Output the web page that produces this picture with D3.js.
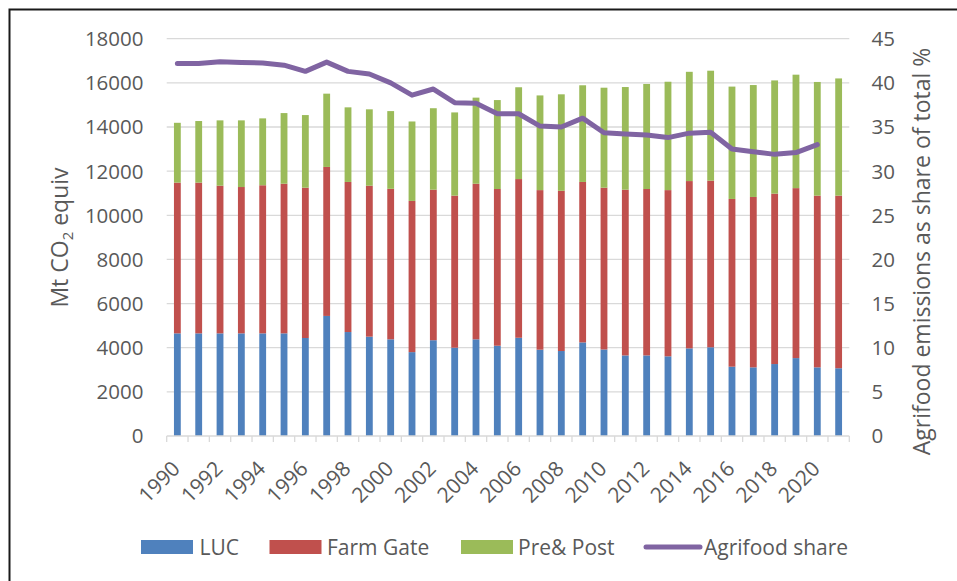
<!DOCTYPE html>
<html>
<head>
<meta charset="utf-8">
<script src="https://cdn.jsdelivr.net/npm/d3@7"></script>
<style>
  html, body { margin: 0; padding: 0; background: #fff; }
  svg { display: block; font-family: "Open Sans", sans-serif; }
</style>
</head>
<body>
<svg id="chart" width="957" height="581"></svg>
<script>
// ---- data ----
const years = [1990,1991,1992,1993,1994,1995,1996,1997,1998,1999,2000,2001,2002,2003,2004,2005,2006,2007,2008,2009,2010,2011,2012,2013,2014,2015,2016,2017,2018,2019,2020,2021];
const luc = [4650,4650,4650,4650,4650,4650,4440,5440,4710,4500,4380,3800,4340,4000,4380,4090,4450,3910,3850,4240,3920,3650,3650,3610,3970,4020,3140,3110,3260,3530,3110,3070];
const farmGate = [6830,6830,6690,6630,6710,6780,6810,6750,6800,6840,6820,6850,6820,6890,7050,7100,7190,7230,7260,7270,7330,7510,7540,7530,7580,7550,7600,7720,7720,7700,7780,7820];
const prePost = [2710,2790,2960,3020,3030,3200,3290,3320,3380,3460,3520,3600,3690,3770,3900,4030,4160,4290,4370,4380,4530,4650,4760,4910,4950,4980,5090,5070,5130,5140,5150,5310];
const agrifoodShare = [42.2,42.2,42.4,42.3,42.25,42.0,41.3,42.35,41.3,41.0,40.0,38.6,39.3,37.75,37.7,36.5,36.5,35.1,35.0,36.0,34.35,34.2,34.1,33.8,34.3,34.4,32.5,32.2,31.9,32.1,33.0,null];
const leftTicks = [0,2000,4000,6000,8000,10000,12000,14000,16000,18000];
const rightTicks = [0,5,10,15,20,25,30,35,40,45];
const xLabelYears = [1990,1992,1994,1996,1998,2000,2002,2004,2006,2008,2010,2012,2014,2016,2018,2020];
const seriesNames = ["LUC","Farm Gate","Pre& Post"];
const lineName = "Agrifood share";
const colors = ["#4F81BD","#C0504D","#9BBB59"];
const lineColor = "#8064A2";

// ---- layout ----
const plot = {left: 166.7, right: 849.3, top: 38.7, bottom: 436};
const svg = d3.select("#chart");
const textColor = "#595959";

// frame (left & top visible)
svg.append("rect").attr("x",9.5).attr("y",9.5).attr("width",1200).attr("height",1200)
  .attr("fill","none").attr("stroke","#1a1a1a").attr("stroke-width",2);

const x = d3.scaleBand().domain(years).range([plot.left, plot.right])
  .paddingInner(0.68).paddingOuter(0.34);
const xOuter = d3.scaleBand().domain(years).range([plot.left, plot.right]).padding(0);
const y = d3.scaleLinear().domain([0,18000]).range([plot.bottom, plot.top]);
const y2 = d3.scaleLinear().domain([0,45]).range([plot.bottom, plot.top]);

// gridlines
svg.append("g").selectAll("line").data(leftTicks.filter(d=>d>0)).join("line")
  .attr("x1",plot.left).attr("x2",plot.right)
  .attr("y1",d=>y(d)).attr("y2",d=>y(d))
  .attr("stroke","#D9D9D9").attr("stroke-width",1.3);

// stacked bars
const rows = years.map((yr,i)=>({year:yr, LUC:luc[i], "Farm Gate":farmGate[i], "Pre& Post":prePost[i]}));
const stack = d3.stack().keys(seriesNames)(rows);
svg.append("g").selectAll("g").data(stack).join("g")
  .attr("fill",(d,i)=>colors[i])
  .selectAll("rect").data(d=>d).join("rect")
  .attr("x",d=>x(d.data.year))
  .attr("width",x.bandwidth())
  .attr("y",d=>y(d[1]))
  .attr("height",d=>y(d[0])-y(d[1]));

// x axis line and ticks
const xAxis = svg.append("g");
xAxis.append("line").attr("x1",plot.left).attr("x2",plot.right)
  .attr("y1",plot.bottom).attr("y2",plot.bottom)
  .attr("stroke","#D9D9D9").attr("stroke-width",1.3);
const tickPos = years.map(yr=>xOuter(yr)).concat([plot.right]);
xAxis.selectAll("line.tick").data(tickPos).join("line").attr("class","tick")
  .attr("x1",d=>d).attr("x2",d=>d).attr("y1",plot.bottom).attr("y2",plot.bottom+6)
  .attr("stroke","#D9D9D9").attr("stroke-width",1.3);
xAxis.selectAll("text").data(xLabelYears).join("text")
  .attr("transform",d=>`translate(${x(d)+x.bandwidth()/2+4},${plot.bottom+34}) rotate(-45)`)
  .attr("text-anchor","end")
  .attr("fill",textColor).attr("font-size",21)
  .text(d=>d);

// left axis labels
svg.append("g").selectAll("text").data(leftTicks).join("text")
  .attr("x",143.5).attr("y",d=>y(d)).attr("dy","0.36em")
  .attr("text-anchor","end").attr("fill",textColor).attr("font-size",20.5)
  .text(d=>d);

// right axis labels
svg.append("g").selectAll("text").data(rightTicks).join("text")
  .attr("x",871.5).attr("y",d=>y2(d)).attr("dy","0.36em")
  .attr("text-anchor","start").attr("fill",textColor).attr("font-size",20.5)
  .text(d=>d);

// axis titles
const lt = svg.append("text")
  .attr("transform",`translate(68,237.5) rotate(-90)`)
  .attr("text-anchor","middle").attr("fill",textColor).attr("font-size",23);
lt.append("tspan").text("Mt CO");
lt.append("tspan").attr("font-size",15).attr("dy",5).text("2");
lt.append("tspan").attr("dy",-5).text(" equiv");

svg.append("text")
  .attr("transform",`translate(930,251.5) rotate(-90)`)
  .attr("text-anchor","middle").attr("fill",textColor).attr("font-size",23)
  .text("Agrifood emissions as share of total %");

// line
const line = d3.line()
  .defined(d=>d.v!=null)
  .x(d=>x(d.year)+x.bandwidth()/2)
  .y(d=>y2(d.v));
svg.append("path")
  .datum(years.map((yr,i)=>({year:yr, v:agrifoodShare[i]})))
  .attr("d",line).attr("fill","none")
  .attr("stroke",lineColor).attr("stroke-width",5)
  .attr("stroke-linejoin","round").attr("stroke-linecap","round");

// legend
const legY = 547;
const legend = svg.append("g");
const legItems = [
  {name:seriesNames[0], color:colors[0], sx:141, tx:199.5},
  {name:seriesNames[1], color:colors[1], sx:269.5, tx:327},
  {name:seriesNames[2], color:colors[2], sx:461, tx:518}
];
legItems.forEach(it=>{
  legend.append("rect").attr("x",it.sx).attr("y",legY-7).attr("width",52).attr("height",14).attr("fill",it.color);
  legend.append("text").attr("x",it.tx).attr("y",legY).attr("dy","0.36em")
    .attr("fill",textColor).attr("font-size",21).text(it.name);
});
legend.append("line").attr("x1",646).attr("x2",700).attr("y1",legY).attr("y2",legY)
  .attr("stroke",lineColor).attr("stroke-width",5).attr("stroke-linecap","round");
legend.append("text").attr("x",704).attr("y",legY).attr("dy","0.36em")
  .attr("fill",textColor).attr("font-size",21).text(lineName);
</script>
</body>
</html>
